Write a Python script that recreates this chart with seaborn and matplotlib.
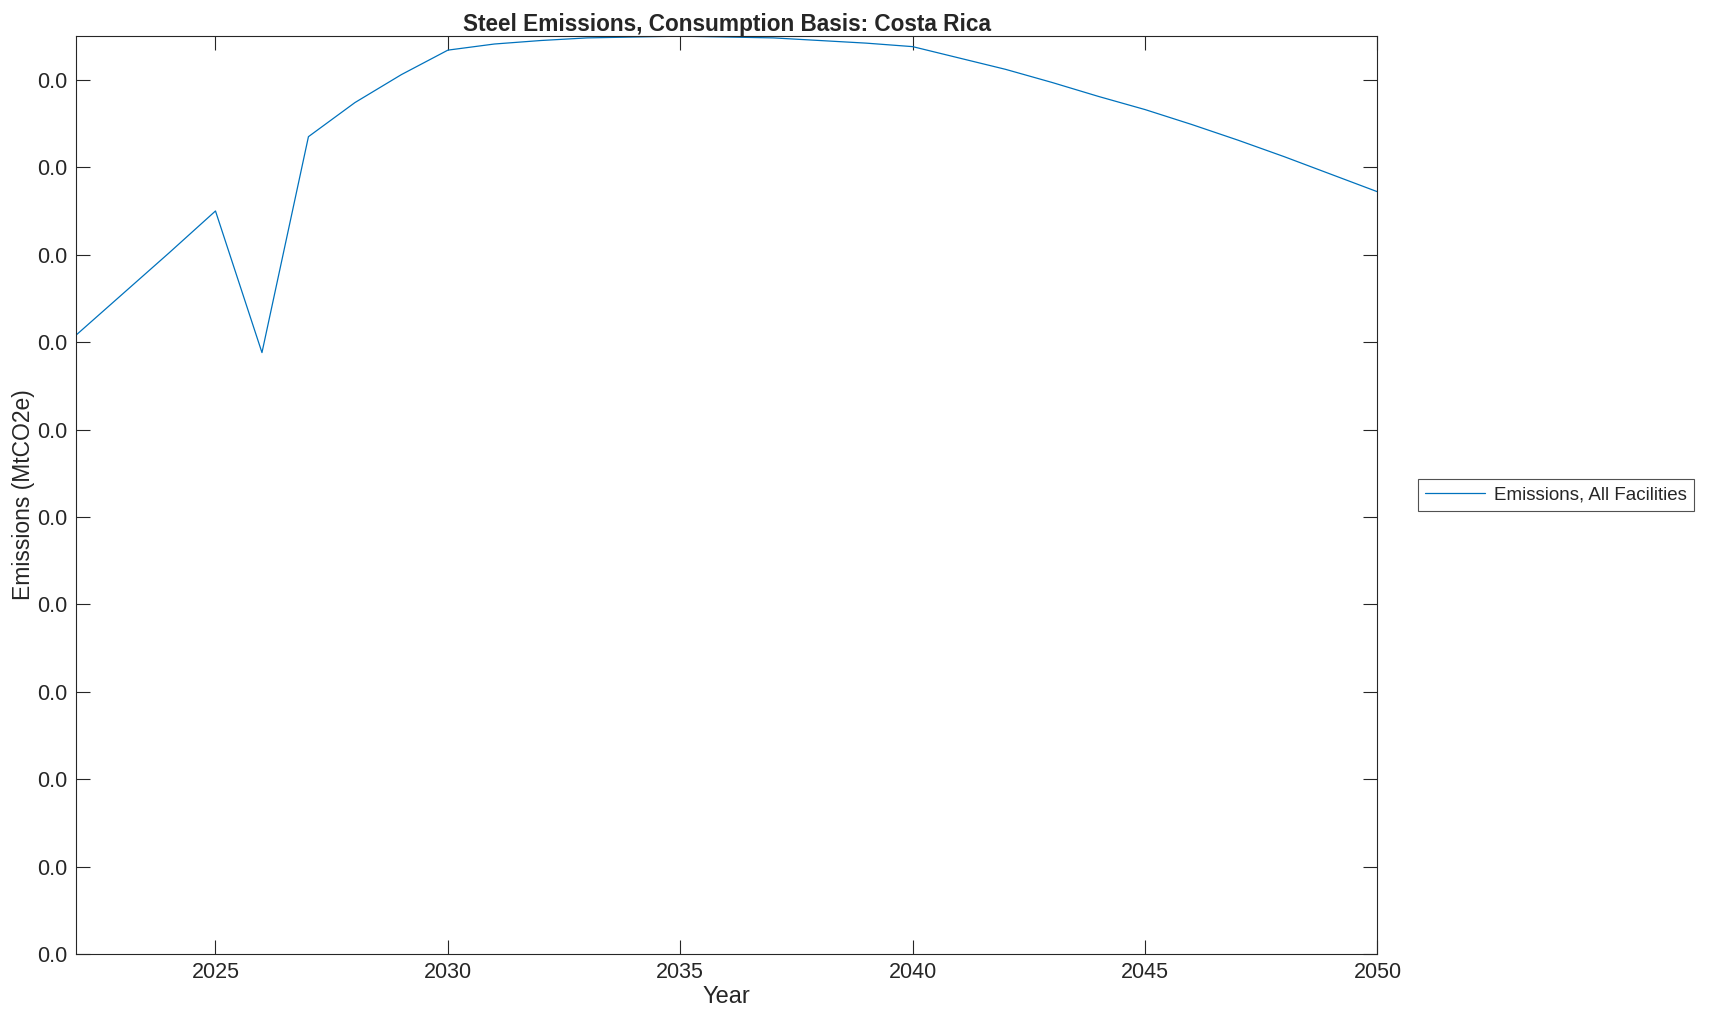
import matplotlib
matplotlib.use("Agg")
import matplotlib.pyplot as plt
import numpy as np
import pandas as pd
import seaborn as sns

# Data (in units of 0.001 MtCO2e)
years = list(range(2022, 2051))
emissions = [7.08, 7.55, 8.02, 8.50, 6.88, 9.35, 9.74, 10.06, 10.34, 10.41,
             10.45, 10.48, 10.49, 10.50, 10.49, 10.48, 10.45, 10.42, 10.38,
             10.25, 10.12, 9.97, 9.81, 9.66, 9.49, 9.31, 9.12, 8.92, 8.72]
emissions = [v * 0.001 for v in emissions]
series_name = "Emissions, All Facilities"
y_ticks = [i * 0.001 for i in range(0, 11)]

df = pd.DataFrame({"Year": years, "Emissions": emissions})

sns.set_style("ticks")
plt.rcParams["font.family"] = ["Liberation Sans", "DejaVu Sans"]

fig = plt.figure(figsize=(17.09, 10.21), dpi=100)
ax = fig.add_axes([0.0445, 0.0656, 0.7615, 0.899])

sns.lineplot(data=df, x="Year", y="Emissions", ax=ax, color="#0072BD",
             linewidth=0.9, label=series_name)

ax.set_xlim(2022, 2050)
ax.set_ylim(0, 0.0105)
ax.set_xticks([2025, 2030, 2035, 2040, 2045, 2050])
ax.set_yticks(y_ticks)
ax.yaxis.set_major_formatter(matplotlib.ticker.FormatStrFormatter("%.1f"))

ax.tick_params(direction="in", length=10, width=0.8, labelsize=15.5,
               top=True, right=True, pad=6, colors="#262626", labelcolor="#262626")
for s in ax.spines.values():
    s.set_visible(True)
    s.set_linewidth(0.8)
    s.set_color("#262626")

ax.set_title("Steel Emissions, Consumption Basis: Costa Rica",
             fontsize=16.3, fontweight="bold", pad=4)
ax.set_xlabel("Year", fontsize=17, labelpad=2)
ax.set_ylabel("Emissions (MtCO2e)", fontsize=16.5, labelpad=2)

leg = ax.legend(loc="center left", bbox_to_anchor=(0.8296, 0.515),
                bbox_transform=fig.transFigure, fontsize=13.5, frameon=True,
                fancybox=False, edgecolor="#262626", handlelength=3.2,
                handletextpad=0.45, borderpad=0.4, borderaxespad=0)
leg.get_frame().set_linewidth(0.8)

fig.savefig("out.png", dpi=100)
